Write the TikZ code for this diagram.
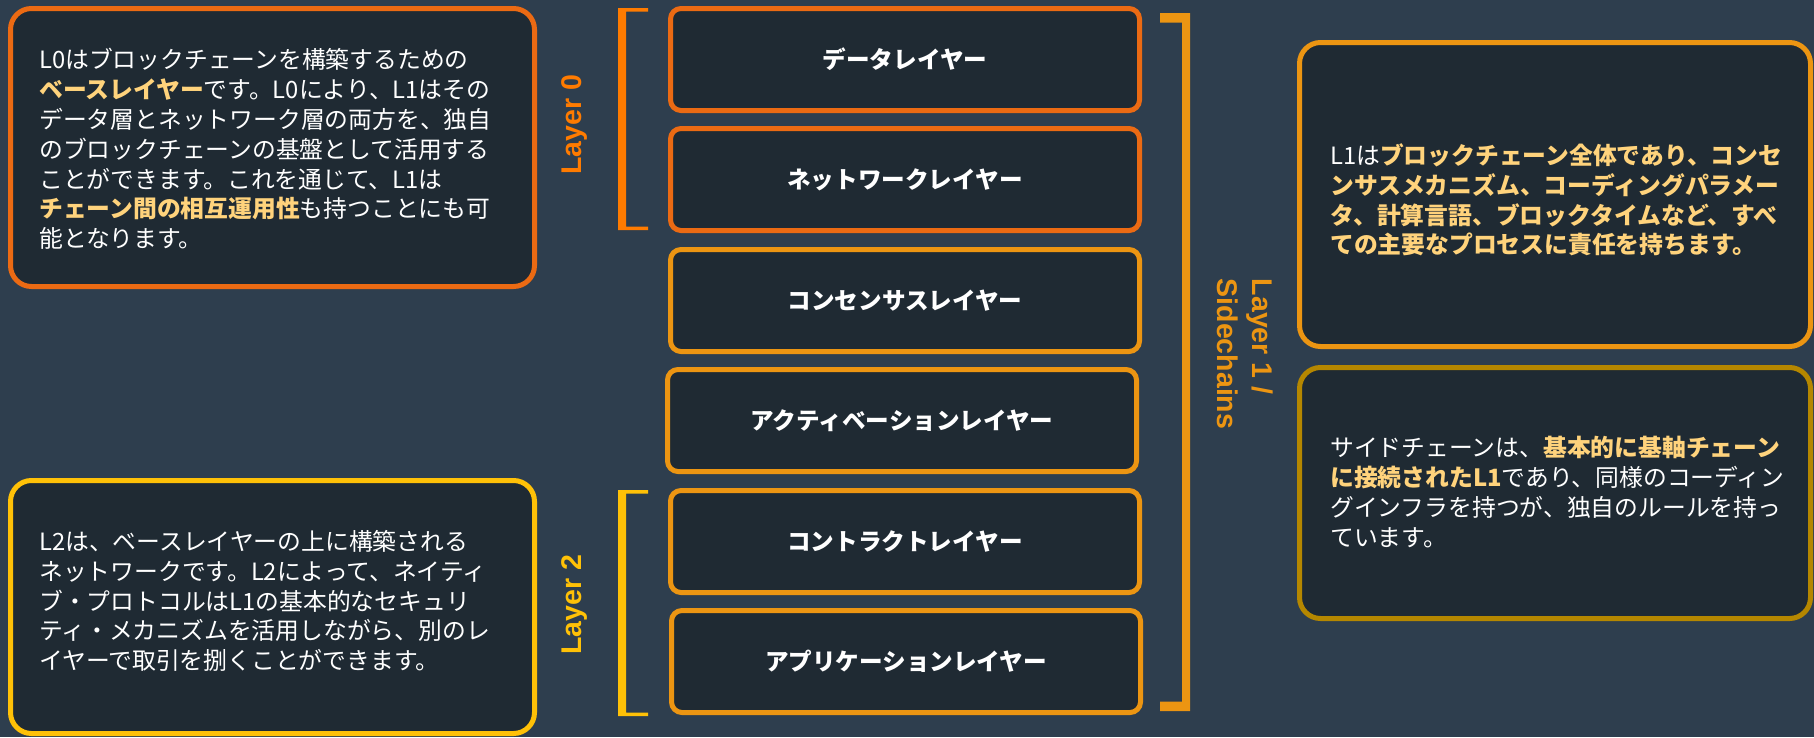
\documentclass[tikz,border=0pt]{standalone}
\usepackage{fontspec}
\setmainfont{Noto Sans CJK JP}
\newfontfamily\labelfont{Liberation Sans}
\definecolor{bg}{HTML}{2E3E4E}
\definecolor{boxfill}{HTML}{1F2A33}
\definecolor{redor}{HTML}{EB6A13}
\definecolor{orng}{HTML}{EC9512}
\definecolor{ylw}{HTML}{FFC107}
\definecolor{gold}{HTML}{B58700}
\definecolor{brOr}{HTML}{FF7B00}
\definecolor{hlc}{HTML}{FFD37C}
\newcommand{\hlt}[1]{{\bfseries\color{hlc}#1}}
\tikzset{
  bigbox/.style={draw, line width=5pt, fill=boxfill, rounded corners=21pt, inner sep=0pt},
  layerbox/.style={draw, line width=5pt, fill=boxfill, rounded corners=10.5pt,
    minimum width=469pt, minimum height=102pt, inner sep=0pt, text=white,
    font=\bfseries\fontsize{23.6}{28}\selectfont},
  body/.style={anchor=west, align=left, text=white, inner sep=0pt,
    font=\fontsize{23.8}{29.8}\selectfont},
  lbl/.style={font=\labelfont\bfseries\fontsize{28.5}{35}\selectfont, inner sep=0pt},
}
\begin{document}
\begin{tikzpicture}[x=1pt,y=-1pt]
\fill[bg] (0,0) rectangle (1814,737);
\useasboundingbox (0,0) rectangle (1814,737);

% left text boxes
\node[bigbox, draw=redor, minimum width=524pt, minimum height=278pt] (l0box) at (272.5,147.5) {};
\node[body] (l0text) at (39,149) {L0はブロックチェーンを構築するための\\
\hlt{ベースレイヤー}です。L0により、L1はその\\
データ層とネットワーク層の両方を、独自\\
のブロックチェーンの基盤として活用する\\
ことができます。これを通じて、L1は\\
\hlt{チェーン間の相互運用性}も持つことにも可\\
能となります。};

\node[bigbox, draw=ylw, minimum width=524pt, minimum height=253pt] (l2box) at (272.5,607) {};
\node[body] (l2text) at (39,601) {L2は、ベースレイヤーの上に構築される\\
ネットワークです。L2によって、ネイティ\\
ブ・プロトコルはL1の基本的なセキュリ\\
ティ・メカニズムを活用しながら、別のレ\\
イヤーで取引を捌くことができます。};

% right text boxes
\node[bigbox, draw=orng, minimum width=511pt, minimum height=304pt] (l1box) at (1555,194.5) {};
\node[body] (l1text) at (1330,200) {L1は\hlt{ブロックチェーン全体であり、コンセ}\\
\hlt{ンサスメカニズム、コーディングパラメー}\\
\hlt{タ、計算言語、ブロックタイムなど、すべ}\\
\hlt{ての主要なプロセスに責任を持ちます。}};

\node[bigbox, draw=gold, minimum width=511pt, minimum height=251pt] (scbox) at (1555,493) {};
\node[body] (sctext) at (1330,492) {サイドチェーンは、\hlt{基本的に基軸チェーン}\\
\hlt{に接続されたL1}であり、同様のコーディン\\
グインフラを持つが、独自のルールを持っ\\
ています。};

% center layer boxes
\node[layerbox, draw=redor] (data) at (905,59.5) {データレイヤー};
\node[layerbox, draw=redor] (net) at (905,179.5) {ネットワークレイヤー};
\node[layerbox, draw=orng] (cons) at (905,300.5) {コンセンサスレイヤー};
\node[layerbox, draw=orng] (act) at (902,420.5) {アクティベーションレイヤー};
\node[layerbox, draw=orng] (contr) at (905,541.5) {コントラクトレイヤー};
\node[layerbox, draw=orng] (app) at (906,661.5) {アプリケーションレイヤー};

% brackets
\fill[brOr] (648,8) -- (618,8) -- (618,230) -- (648,230) -- (648,226.5) -- (626,226.5) -- (626,11.5) -- (648,11.5) -- cycle;
\fill[ylw] (648,490) -- (618,490) -- (618,716) -- (648,716) -- (648,712.5) -- (626,712.5) -- (626,493.5) -- (648,493.5) -- cycle;
\fill[orng] (1160,13) -- (1190,13) -- (1190,711) -- (1160,711) -- (1160,701.5) -- (1182,701.5) -- (1182,22.5) -- (1160,22.5) -- cycle;

% labels
\node[lbl, text=brOr, rotate=90] (lay0) at (574,125) {Layer 0};
\node[lbl, text=ylw, rotate=90] (lay2) at (574,605) {Layer 2};
\node[lbl, text=orng, rotate=-90, align=left] (lay1) at (1245,354) {Layer 1 /\\Sidechains};
\end{tikzpicture}
\end{document}
